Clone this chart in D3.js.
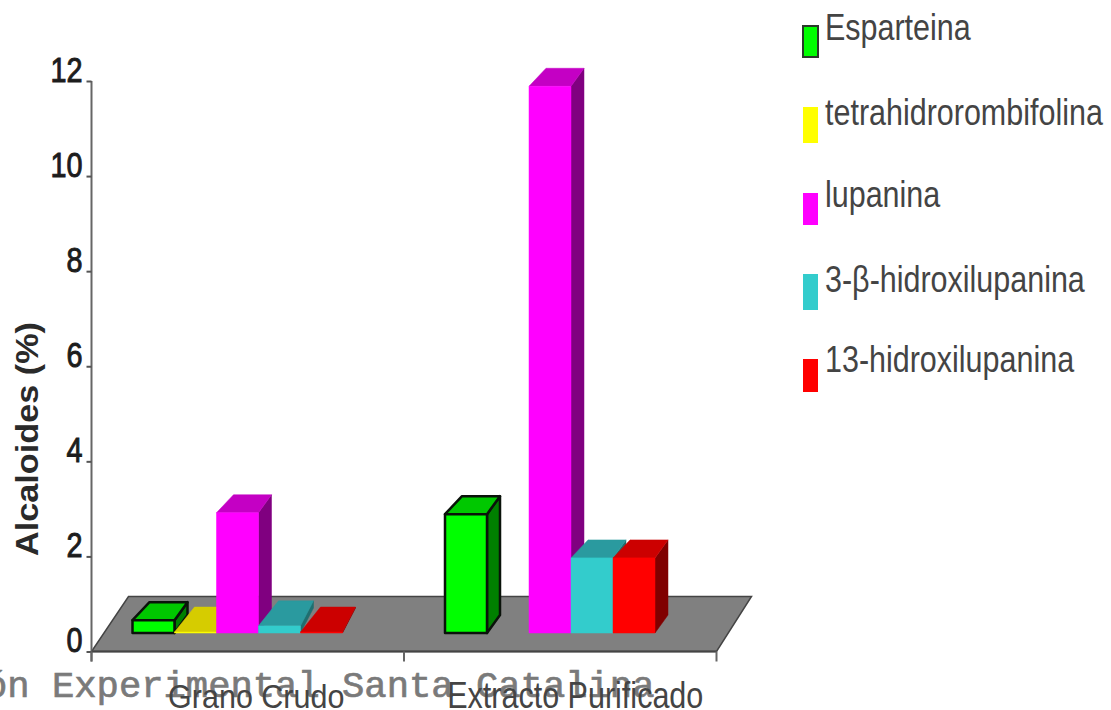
<!DOCTYPE html>
<html>
<head>
<meta charset="utf-8">
<script src="https://cdn.jsdelivr.net/npm/d3@7"></script>
<style>
html,body{margin:0;padding:0;background:#fff;overflow:hidden}
svg{display:block}
text{font-family:"Liberation Sans",Arial,sans-serif}
</style>
</head>
<body>
<div id="chart"></div>
<script>
// Alkaloid content of raw grain and purified extract
const categories = ["Grano Crudo", "Extracto Purificado"];
const seriesNames = ["Esparteina", "tetrahidrorombifolina", "lupanina", "3-β-hidroxilupanina", "13-hidroxilupanina"];
const esparteina = [0.27, 2.5];
const tetrahidrorombifolina = [0.02, null];
const lupanina = [2.53, 11.5];
const hidroxilupanina3b = [0.15, 1.58];
const hidroxilupanina13 = [0.02, 1.58];
const yTicks = [0, 2, 4, 6, 8, 10, 12];
const footerText = "ón Experimental Santa Catalina";

const seriesValues = [esparteina, tetrahidrorombifolina, lupanina, hidroxilupanina3b, hidroxilupanina13];
const frontColors = ["#00ff00", "#ffff00", "#ff00ff", "#33cccc", "#ff0000"];
const topColors = ["#00c800", "#d6cc00", "#c400c4", "#2a9a9f", "#cc0000"];
const sideColors = ["#008000", "#808000", "#800080", "#1f6f70", "#800000"];
const outlines = ["#0a120a", null, null, null, null];

const W = 1111, H = 710;
const svg = d3.select("#chart").append("svg").attr("width", W).attr("height", H);

const y = d3.scaleLinear().domain([0, 12]).range([651.5, 81]);
const x0 = d3.scaleBand().domain(categories).range([91.5, 716.5]);
const x1 = d3.scaleBand().domain(seriesNames).range([41, 251]);

// Overprinted caption, running off the left edge
svg.append("text")
  .attr("x", -15).attr("y", 697)
  .style("font-family", '"Liberation Mono",monospace')
  .style("font-size", "37.2px")
  .attr("fill", "#7a7a7a").attr("stroke", "#7a7a7a").attr("stroke-width", 0.7)
  .text(footerText);

// Floor of the 3D plot
const floorLift = 55, floorSkewL = 37, floorSkewR = 35;
const [fl, fr] = x0.range();
const floorPath = d3.line()([
  [fl, y(0)], [fr, y(0)],
  [fr + floorSkewR, y(0) - floorLift], [fl + floorSkewL, y(0) - floorLift]
]) + "Z";
svg.append("path").attr("d", floorPath)
  .attr("fill", "#808080").attr("stroke", "#444").attr("stroke-width", 1.5);

// Bars stand on the mid-depth line of the floor
const baseLift = 18.5;
const line = d3.line();
categories.forEach((cat, c) => {
  seriesNames.forEach((name, s) => {
    const v = seriesValues[s][c];
    if (v === null) return;
    const xa = x0(cat) + x1(name), xb = xa + x1.bandwidth();
    const yt = y(v) - baseLift, yb = y(0) - baseLift;
    const shallow = v < 0.2;
    const dy = shallow ? 25 : 18, dl = shallow ? 20 : 17, dr = 13;
    const g = svg.append("g").attr("class", "bar");
    const st = outlines[s];
    const paint = (sel, fill) => sel.attr("fill", fill)
      .attr("stroke", st || fill).attr("stroke-width", st ? 2.5 : 0.5).attr("stroke-linejoin", "round");
    paint(g.append("path").attr("d", line([[xb, yb], [xb, yt], [xb + dr, yt - dy], [xb + dr, yb - dy]]) + "Z"), sideColors[s]);
    paint(g.append("path").attr("d", line([[xa, yt], [xb, yt], [xb + dr, yt - dy], [xa + dl, yt - dy]]) + "Z"), topColors[s]);
    paint(g.append("rect").attr("x", xa).attr("y", yt).attr("width", xb - xa).attr("height", yb - yt), frontColors[s]);
  });
});

// Value axis
const yAxis = svg.append("g").attr("transform", `translate(${fl},0)`)
  .call(d3.axisLeft(y).tickValues(yTicks).tickSize(5).tickFormat(d3.format("d")));
yAxis.select(".domain").attr("stroke", "#666").attr("stroke-width", 2).attr("d", `M0,${y(12)}V${y(0) + 10}`);
yAxis.selectAll(".tick line").attr("stroke", "#555").attr("stroke-width", 2);
yAxis.selectAll(".tick text")
  .attr("x", null).attr("dy", null).attr("y", null)
  .attr("transform", "translate(-9,0) scale(0.8,1)")
  .attr("text-anchor", "end")
  .style("font-family", '"Liberation Sans",Arial,sans-serif')
  .style("font-size", "36px").attr("fill", "#1c1c1c")
  .attr("stroke", "#1c1c1c").attr("stroke-width", 1);

// Category axis
const xAxis = svg.append("g").attr("transform", `translate(0,${y(0)})`);
xAxis.append("path").attr("d", `M${fl},0H${fr}`).attr("stroke", "#444").attr("stroke-width", 2);
xAxis.selectAll("line.sep").data(d3.range(categories.length + 1)).join("line")
  .attr("class", "sep")
  .attr("x1", i => fl + i * x0.step()).attr("x2", i => fl + i * x0.step())
  .attr("y1", 0).attr("y2", 10).attr("stroke", "#666").attr("stroke-width", 2);
const labelShift = [8.5, 15];
const labelStretch = [0.88, 1];
xAxis.selectAll("text.cat").data(categories).join("text")
  .attr("class", "cat")
  .attr("text-anchor", "middle")
  .attr("transform", (d, i) => `translate(${x0(d) + x0.bandwidth() / 2 + labelShift[i]},56.5) scale(0.825,${labelStretch[i]})`)
  .style("font-size", "37px").attr("fill", "#444")
  .text(d => d);

// Axis title
svg.append("text")
  .attr("transform", "translate(38,439) rotate(-90) scale(1.07,1)")
  .attr("text-anchor", "middle")
  .style("font-size", "32px").style("font-weight", "700")
  .attr("fill", "#2a2a2a")
  .text("Alcaloides (%)");

// Legend
const swatchTops = [26, 107, 193, 274, 359];
const swatchBottoms = [57, 143, 225, 310, 392];
const legendBaselines = [40, 125, 207, 292, 372];
const legend = svg.append("g");
seriesNames.forEach((name, s) => {
  legend.append("rect")
    .attr("x", 803).attr("y", swatchTops[s])
    .attr("width", 15).attr("height", swatchBottoms[s] - swatchTops[s])
    .attr("fill", frontColors[s])
    .attr("stroke", outlines[s] ? "#2a3a2a" : "none").attr("stroke-width", 2);
  legend.append("text")
    .attr("transform", `translate(825,${legendBaselines[s]}) scale(0.824,1)`)
    .style("font-size", "37px").attr("fill", "#444")
    .text(name);
});
</script>
</body>
</html>
